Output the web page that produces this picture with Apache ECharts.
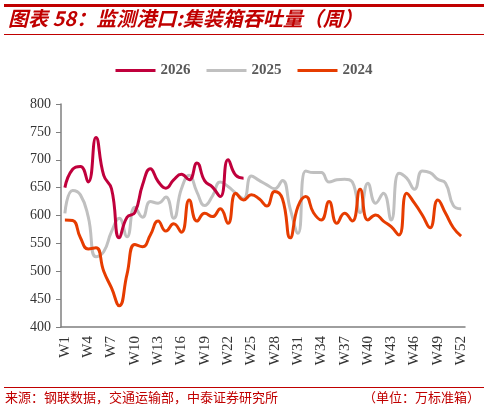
<!DOCTYPE html>
<html>
<head>
<meta charset="utf-8">
<script src="https://cdn.jsdelivr.net/npm/echarts@6/dist/echarts.min.js"></script>
<style>
  html, body { margin: 0; padding: 0; background: #fff; }
  #chart { width: 488px; height: 410px; }
</style>
</head>
<body>
<div id="chart"></div>
<script>
// 周次
const weeks = []
for (let i = 1; i <= 52; i++) weeks.push('W' + i)

// 2026 (只有前24周)
const y2026 = [650, 683, 688, 660, 740, 672, 648, 560, 597, 605, 655, 684,
  661, 649, 664, 674, 664, 694, 662, 651, 634, 700, 672, 667]

const y2025 = [604, 645, 637, 598, 526, 535, 571, 595, 562, 615, 597, 625,
  622, 633, 595, 648, 672, 642, 618, 635, 660, 652, 640, 630, 671, 663,
  655, 648, 663, 612, 568, 680, 677, 677, 660, 664, 665, 660, 605, 658,
  622, 640, 592, 676, 667, 647, 680, 677, 665, 658, 618, 612]

const y2024 = [592, 591, 560, 540, 542, 500, 470, 438, 495, 548, 544, 565,
  590, 572, 585, 570, 628, 590, 604, 598, 612, 586, 640, 628, 637, 630,
  617, 643, 630, 560, 616, 634, 605, 592, 625, 586, 604, 590, 647, 592,
  601, 590, 580, 565, 640, 622, 601, 578, 628, 604, 578, 563]

// y轴刻度
const yMin = 400
const yMax = 800
const yStep = 50

const serif = '"Liberation Serif", "Times New Roman", serif'
const cjk = '"Noto Sans CJK SC", sans-serif'

const myChart = echarts.init(document.getElementById('chart'))

const options = {
  animation: false,
  // 标题、分隔线、来源
  graphic: [
    { type: 'rect', shape: { x: 4, y: 4, width: 480, height: 3 }, style: { fill: '#C00000' } },
    {
      type: 'text', left: 8, top: 8,
      style: {
        text: '图表 58：监测港口:集装箱吞吐量（周）',
        fill: '#C00000',
        font: 'italic bold 20px ' + cjk
      }
    },
    { type: 'rect', shape: { x: 4, y: 34, width: 480, height: 1 }, style: { fill: '#C00000' } },
    { type: 'rect', shape: { x: 4, y: 387, width: 480, height: 1 }, style: { fill: '#C00000' } },
    {
      type: 'text', left: 5, top: 391,
      style: {
        text: '来源：钢联数据，交通运输部，中泰证券研究所',
        fill: '#C00000',
        font: '13px ' + cjk
      }
    },
    {
      type: 'text', right: 8, top: 391,
      style: {
        text: '（单位：万标准箱）',
        fill: '#C00000',
        font: '13px ' + cjk
      }
    }
  ],
  legend: {
    top: 58,
    left: 'center',
    icon: 'rect',
    itemWidth: 40,
    itemHeight: 3,
    itemGap: 16,
    textStyle: {
      fontFamily: serif,
      fontWeight: 'bold',
      fontSize: 15,
      color: '#595959'
    },
    data: ['2026', '2025', '2024']
  },
  grid: {
    left: 61,
    right: 23,
    top: 104,
    bottom: 83
  },
  xAxis: {
    type: 'category',
    data: weeks,
    boundaryGap: true,
    axisLine: { lineStyle: { color: '#7F7F7F', width: 1.5 } },
    axisTick: { interval: 0, length: 4, lineStyle: { color: '#7F7F7F' } },
    axisLabel: {
      interval: 2,
      rotate: 90,
      margin: 9,
      fontFamily: serif,
      fontSize: 15,
      color: '#333333'
    }
  },
  yAxis: {
    type: 'value',
    min: yMin,
    max: yMax,
    interval: yStep,
    splitLine: { show: false },
    axisLine: { show: true, lineStyle: { color: '#7F7F7F', width: 1.5 } },
    axisTick: { show: true, length: 5, lineStyle: { color: '#7F7F7F' } },
    axisLabel: {
      margin: 10,
      fontFamily: serif,
      fontSize: 14,
      color: '#333333'
    }
  },
  series: [
    {
      name: '2026',
      type: 'line',
      data: y2026,
      smooth: 0.5,
      showSymbol: false,
      z: 4,
      itemStyle: { color: '#C0003C' },
      lineStyle: { width: 3, color: '#C0003C' }
    },
    {
      name: '2025',
      type: 'line',
      data: y2025,
      smooth: 0.5,
      showSymbol: false,
      z: 2,
      itemStyle: { color: '#C0C0C0' },
      lineStyle: { width: 3, color: '#C0C0C0' }
    },
    {
      name: '2024',
      type: 'line',
      data: y2024,
      smooth: 0.5,
      showSymbol: false,
      z: 3,
      itemStyle: { color: '#E63C00' },
      lineStyle: { width: 3, color: '#E63C00' }
    }
  ]
}

myChart.setOption(options)
</script>
</body>
</html>
